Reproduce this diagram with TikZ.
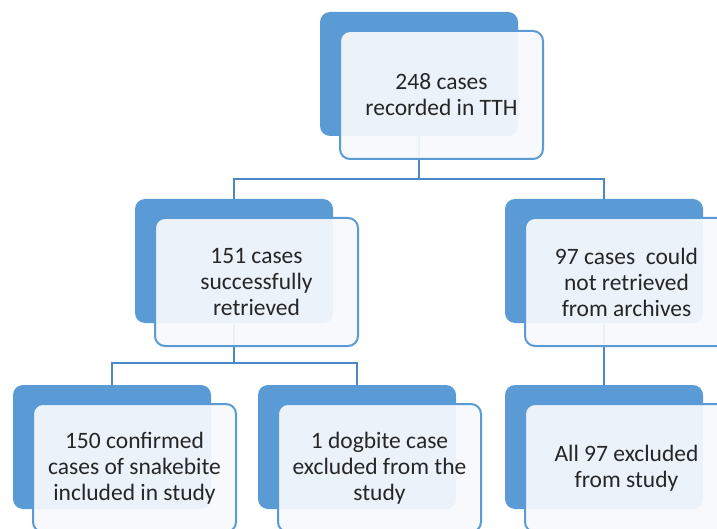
\documentclass[tikz,border=0pt]{standalone}
\usepackage{fontspec}
\setmainfont{Carlito}
\definecolor{darkbox}{HTML}{5B9BD5}
\definecolor{lightbox}{HTML}{F6F9FD}
\definecolor{edge}{HTML}{4A89C5}

\begin{document}
\begin{tikzpicture}[x=1pt,y=-1pt]
        \tikzstyle{back}=[fill=darkbox,rounded corners=10pt,minimum width=198pt,minimum height=124pt,inner sep=0pt]
        \tikzstyle{front}=[draw=darkbox,line width=2pt,fill=lightbox,fill opacity=0.93,text opacity=1,text=black!85,rounded corners=10pt,minimum width=203pt,minimum height=128pt,inner sep=0pt,align=center,font=\fontsize{23.5}{26}\selectfont]
        \tikzstyle{link}=[draw=edge,line width=2pt]
        \useasboundingbox (0,0) rectangle (717,529);
        \clip (0,0) rectangle (717,529);

            \node[back] (a) at (419,74) {};
            \node[back] (b) at (234,261) {};
            \node[back] (c) at (604,261) {};
            \node[back] (d) at (112,447) {};
            \node[back] (e) at (357,447) {};
            \node[back] (f) at (604,447) {};

            \draw[link] (a.south) -- ++(0,43) coordinate (ab) -| (b.north)
            (ab) -| (c.north);
            \draw[link] (b.south) -- ++(0,40) coordinate (bd) -| (d.north)
            (bd) -| (e.north);
            \draw[link] (c.south) -- (f.north);

            \node[front] (at) at (441.5,95) {248 cases\\recorded in TTH};
            \node[front] (bt) at (256.5,282) {151 cases\\successfully\\retrieved};
            \node[front] (ct) at (626.5,282) {97 cases~ could\\not retrieved\\from archives};
            \node[front] (dt) at (134.5,468) {150 confirmed\\cases of snakebite\\included in study};
            \node[front] (et) at (379.5,468) {1 dogbite case\\excluded from the\\study};
            \node[front] (ft) at (626.5,468) {All 97 excluded\\from study};
        \end{tikzpicture}
\end{document}
